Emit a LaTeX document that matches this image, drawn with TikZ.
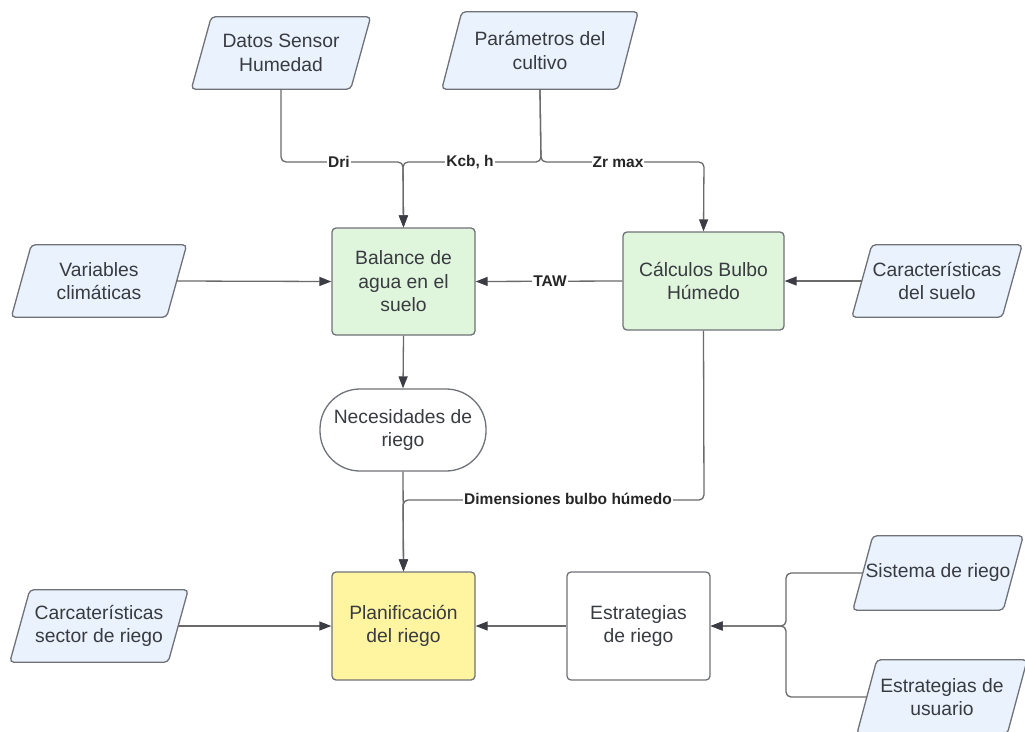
\documentclass[tikz,border=0pt]{standalone}
\usepackage{fontspec}
\setmainfont{Liberation Sans}
\usetikzlibrary{arrows.meta,backgrounds}
\definecolor{pfill}{HTML}{EAF2FD}
\definecolor{gfill}{HTML}{DFF5DC}
\definecolor{yfill}{HTML}{FFF4A0}
\definecolor{bord}{HTML}{6F7278}
\definecolor{txt}{HTML}{383B40}
\definecolor{lin}{HTML}{6A6A6A}
\definecolor{tip}{HTML}{3C3D44}
\begin{document}
\begin{tikzpicture}[x=1pt,y=-1pt,
  every node/.style={inner sep=0pt, align=center, text=txt, font=\fontsize{19.3}{23.5}\selectfont},
  pbox/.style={minimum height=72pt},
  pshape/.style={draw=bord, fill=pfill, line width=1.3pt, rounded corners=4pt},
  gbox/.style={draw=bord, fill=gfill, line width=1.3pt, rounded corners=4pt},
  ybox/.style={draw=bord, fill=yfill, line width=1.3pt, rounded corners=4pt},
  wbox/.style={draw=bord, fill=white, line width=1.3pt, rounded corners=4pt},
  term/.style={draw=bord, fill=white, line width=1.3pt, rounded corners=40pt},
  conn/.style={draw=lin, line width=1.3pt, rounded corners=5pt},
  arr/.style={conn, -{Triangle[length=12pt,width=9pt,fill=tip,color=tip]}},
  elabel/.style={fill=white, inner xsep=1pt, inner ysep=1pt, text=black!85, font=\fontsize{15.5}{17}\bfseries\selectfont}
]
\clip (0,0) rectangle (1025,731);

% parallelogram text nodes
\node[pbox, minimum width=159pt] (dsh) at (281,53) {Datos Sensor\\Humedad};
\node[pbox, minimum width=176pt, minimum height=77pt] (pc) at (540,50.5) {Parámetros del\\cultivo};
\node[pbox, minimum width=155pt] (vc) at (99,281) {Variables\\climáticas};
\node[pbox, minimum width=150pt] (cs) at (937,281) {Características\\del suelo};
\node[pbox, minimum width=158pt] (csr) at (99,626) {Carcaterísticas\\sector de riego};
\node[pbox, minimum width=150pt, minimum height=74pt] (sr) at (938,573) {Sistema de riego};
\node[pbox, minimum width=150pt, minimum height=74pt] (eu) at (942,697) {Estrategias de\\usuario};

% process boxes
\node[gbox, minimum width=143pt, minimum height=107pt] (bal) at (403.5,281.5) {Balance de\\agua en el\\suelo};
\node[gbox, minimum width=161pt, minimum height=98pt] (cbh) at (703.5,281) {Cálculos Bulbo\\Húmedo};
\node[term, minimum width=166pt, minimum height=82pt] (nr) at (403,430) {Necesidades de\\riego};
\node[ybox, minimum width=143pt, minimum height=108pt] (plan) at (403.5,626) {Planificación\\del riego};
\node[wbox, minimum width=143pt, minimum height=108pt] (er) at (638.5,626) {Estrategias\\de riego};

\begin{scope}[on background layer]
\fill[white] (0,0) rectangle (1025,731);
\foreach \n in {dsh,pc,vc,cs,csr,sr,eu}
  \draw[pshape] ([xshift=10pt]\n.north west) -- ([xshift=10pt]\n.north east)
     -- ([xshift=-10pt]\n.south east) -- ([xshift=-10pt]\n.south west) -- cycle;
\end{scope}

% junction coordinates
\coordinate (j1) at (403,162);
\coordinate (j2) at (541,162);
\coordinate (j3) at (704,162);
\coordinate (j4) at (704,500);
\coordinate (j5) at (403,500);
\coordinate (b1) at (786,573);
\coordinate (b2) at (786,626);
\coordinate (b3) at (786,697);

% connectors
\draw[arr] (dsh.south) |- (j1) -- (bal.north);
\draw[arr] (pc.south) -- (j2) -- (j1) -- (bal.north);
\draw[arr] (pc.south) -- (j2) -- (j3) -- (cbh.north);
\draw[arr] (vc.east) -- (bal.west);
\draw[arr] (cbh.west) -- (bal.east);
\draw[arr] (cs.west) -- (cbh.east);
\draw[arr] (bal.south) -- (nr.north);
\draw[arr] (nr.south) -- (plan.north);
\draw[arr] (cbh.south) -- (j4) -- (j5) -- (plan.north);
\draw[arr] (csr.east) -- (plan.west);
\draw[arr] (er.west) -- (plan.east);
\draw[arr] (sr.west) -- (b1) -- (b2) -- (er.east);
\draw[arr] (eu.west) -- (b3) -- (b2) -- (er.east);

% edge labels
\node[elabel] (ldri) at (339,162) {Dri};
\node[elabel] (lkcb) at (470,162) {Kcb, h};
\node[elabel] (lzr) at (618,162) {Zr max};
\node[elabel] (ltaw) at (550,281) {TAW};
\node[elabel] (ldim) at (568,499) {Dimensiones bulbo húmedo};
\end{tikzpicture}
\end{document}
